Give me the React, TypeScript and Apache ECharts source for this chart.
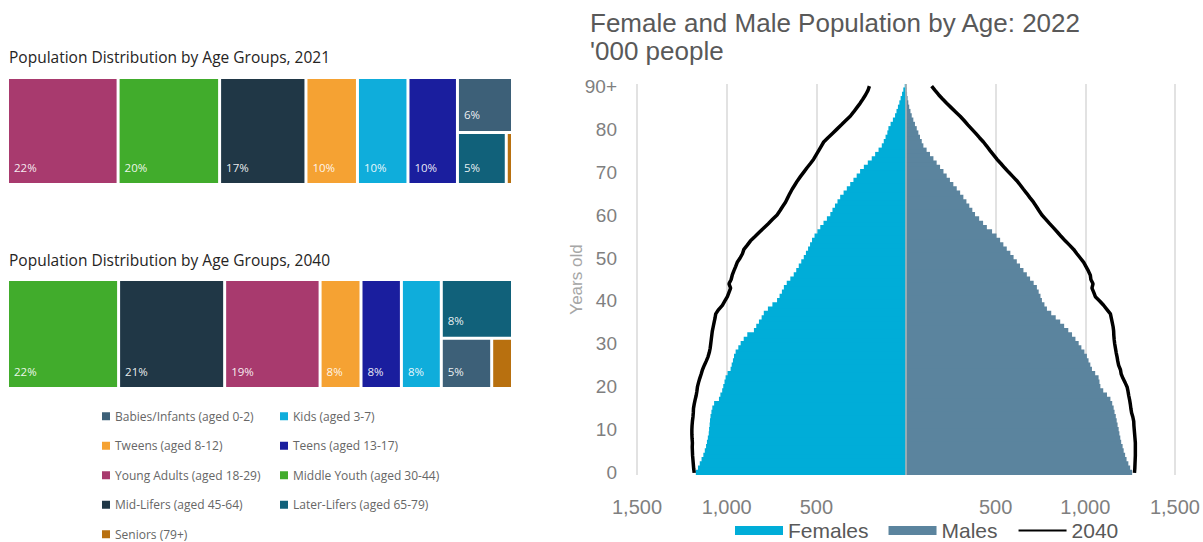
import React, { useEffect, useRef } from 'react';
import * as echarts from 'echarts';

// ---------- Left: age-group distribution ----------
const groupNames = [
  'Babies/Infants (aged 0-2)',
  'Kids (aged 3-7)',
  'Tweens (aged 8-12)',
  'Teens (aged 13-17)',
  'Young Adults (aged 18-29)',
  'Middle Youth (aged 30-44)',
  'Mid-Lifers (aged 45-64)',
  'Later-Lifers (aged 65-79)',
  'Seniors (79+)',
];
const groupColors = [
  '#3D6078', '#0FADDB', '#F5A233', '#1A1E9E', '#A83A6E',
  '#41AC2C', '#203746', '#11617A', '#B8700F',
];
const share2021 = [5.6, 10.0, 10.2, 9.8, 21.9, 20.1, 17.1, 4.7, 0.6];
const share2040 = [4.6, 7.9, 8.1, 8.0, 18.9, 22.0, 21.0, 7.6, 1.9];
const rowTitles = [
  'Population Distribution by Age Groups, 2021',
  'Population Distribution by Age Groups, 2040',
];

// ---------- Right: population pyramid ('000 people) ----------
const ageLabels = [
  '0','1','2','3','4','5','6','7','8','9',
  '10','11','12','13','14','15','16','17','18','19',
  '20','21','22','23','24','25','26','27','28','29',
  '30','31','32','33','34','35','36','37','38','39',
  '40','41','42','43','44','45','46','47','48','49',
  '50','51','52','53','54','55','56','57','58','59',
  '60','61','62','63','64','65','66','67','68','69',
  '70','71','72','73','74','75','76','77','78','79',
  '80','81','82','83','84','85','86','87','88','89',
  '90+',
];
const females2022 = [
  1172, 1160, 1150, 1140, 1130, 1122, 1115, 1110, 1105, 1100,
  1098, 1095, 1093, 1090, 1085, 1080, 1070, 1043, 1035, 1025,
  1019, 1012, 1006, 995, 978, 972, 965, 959, 950, 935,
  922, 905, 885, 848, 835, 820, 805, 793, 770, 745,
  719, 705, 692, 681, 665, 645, 626, 612, 598, 584,
  570, 558, 546, 535, 524, 510, 494, 478, 460, 441,
  422, 410, 396, 382, 367, 348, 330, 311, 293, 275,
  256, 235, 213, 191, 172, 153, 135, 124, 114, 104,
  98, 86, 73, 61, 53, 45, 37, 30, 22, 15,
  7,
];
const males2022 = [
  1261, 1250, 1240, 1230, 1222, 1214, 1208, 1200, 1195, 1190,
  1186, 1180, 1175, 1170, 1163, 1158, 1150, 1140, 1121, 1100,
  1084, 1079, 1074, 1055, 1037, 1028, 1018, 1009, 995, 978,
  963, 945, 926, 905, 882, 860, 835, 810, 786, 772,
  758, 750, 740, 730, 712, 692, 674, 655, 636, 618,
  600, 582, 562, 543, 525, 505, 480, 451, 430, 408,
  385, 370, 353, 337, 320, 302, 283, 264, 245, 227,
  209, 190, 171, 153, 134, 115, 97, 88, 78, 69,
  60, 50, 41, 32, 25, 18, 13, 9, 6, 4,
  3,
];
const females2040 = [
  1181, 1184, 1186, 1188, 1190, 1191, 1192, 1191, 1193, 1194,
  1194, 1193, 1191, 1188, 1186, 1185, 1181, 1176, 1170, 1166,
  1163, 1157, 1150, 1142, 1135, 1125, 1114, 1104, 1097, 1092,
  1089, 1086, 1083, 1080, 1075, 1070, 1065, 1061, 1045, 1024,
  1010, 996, 987, 978, 987, 975, 969, 960, 950, 941,
  925, 912, 904, 885, 867, 842, 818, 793, 768, 744,
  719, 703, 688, 672, 660, 648, 635, 620, 605, 588,
  570, 552, 533, 515, 501, 487, 473, 459, 435, 410,
  385, 360, 336, 311, 292, 274, 256, 240, 225, 212,
  204,
];
const males2040 = [
  1274, 1276, 1277, 1278, 1279, 1279, 1279, 1279, 1277, 1275,
  1273, 1271, 1270, 1265, 1258, 1254, 1251, 1247, 1242, 1238,
  1233, 1222, 1210, 1200, 1196, 1186, 1181, 1177, 1172, 1168,
  1164, 1161, 1159, 1158, 1155, 1150, 1145, 1140, 1121, 1102,
  1080, 1056, 1047, 1037, 1043, 1031, 1028, 1017, 1004, 991,
  972, 953, 935, 912, 888, 866, 845, 823, 801, 780,
  758, 742, 727, 711, 692, 674, 655, 637, 618, 595,
  572, 550, 529, 507, 488, 469, 451, 432, 410, 389,
  367, 345, 324, 302, 277, 252, 227, 204, 182, 162,
  143,
];
const pyramidTitle = "Female and Male Population by Age: 2022\n'000 people";
const xTicks = { min: -1500, max: 1500, interval: 500 };

// Layout: six largest groups as full-height columns, the last column holds the
// largest remaining group on top and the other two side by side below.
function layoutRow(shares: number[]) {
  const idx = shares.map((_, i) => i).sort((a, b) => shares[b] - shares[a]);
  const total = shares.reduce((s, v) => s + v, 0);
  const rects: number[][] = [];
  let x = 0;
  for (let k = 0; k < 6; k++) {
    const i = idx[k];
    rects[i] = [x, x + shares[i], 0, 1];
    x += shares[i];
  }
  const rest = idx.slice(6);
  const colW = rest.reduce((s, i) => s + shares[i], 0);
  const topH = shares[rest[0]] / colW;
  rects[rest[0]] = [x, total, 0, topH];
  const bw = shares[rest[1]] + shares[rest[2]];
  const split = x + (total - x) * (shares[rest[1]] / bw);
  rects[rest[1]] = [x, split, topH, 1];
  rects[rest[2]] = [split, total, topH, 1];
  return { rects, total };
}

const LEFT_FONT = "'Open Sans', 'DejaVu Sans', sans-serif";
const RIGHT_FONT = "'Liberation Sans', Arial, sans-serif";

function renderBlock(params: any, api: any) {
  const p0 = api.coord([api.value(0), api.value(2)]);
  const p1 = api.coord([api.value(1), api.value(3)]);
  const g = 1.5;
  const x = Math.min(p0[0], p1[0]) + g;
  const y = Math.min(p0[1], p1[1]) + g;
  const w = Math.abs(p1[0] - p0[0]) - 2 * g;
  const h = Math.abs(p1[1] - p0[1]) - 2 * g;
  const children: any[] = [
    {
      type: 'rect',
      shape: { x, y, width: w, height: h },
      style: { fill: api.visual('color') },
    },
  ];
  if (w > 25) {
    children.push({
      type: 'text',
      x: x + 5,
      y: y + h - 16,
      style: {
        text: Math.round(api.value(4)) + '%',
        fill: 'rgba(255,255,255,0.92)',
        fontSize: 11.5,
        fontFamily: LEFT_FONT,
        align: 'left',
        verticalAlign: 'middle',
        textAlign: 'left',
        textVerticalAlign: 'middle',
      },
    });
  }
  return { type: 'group', children };
}

function buildOption() {
  const rows = [layoutRow(share2021), layoutRow(share2040)];
  const gridTops = [77.5, 279.5];
  const gridHeights = [107, 109];

  const grids: any[] = rows.map((_, r) => ({
    left: 7.5,
    width: 505,
    top: gridTops[r],
    height: gridHeights[r],
  }));
  grids.push({ left: 637, width: 538, top: 84, height: 391 });

  const xAxes: any[] = rows.map((row, r) => ({
    gridIndex: r,
    type: 'value',
    min: 0,
    max: row.total,
    show: false,
  }));
  const yAxes: any[] = rows.map((_, r) => ({
    gridIndex: r,
    type: 'value',
    min: 0,
    max: 1,
    inverse: true,
    show: false,
  }));

  xAxes.push({
    gridIndex: 2,
    type: 'value',
    min: xTicks.min,
    max: xTicks.max,
    interval: xTicks.interval,
    axisLine: { show: false },
    axisTick: { show: false },
    splitLine: { show: true, lineStyle: { color: '#d9d9d9', width: 1.5 } },
    axisLabel: {
      fontSize: 20,
      color: '#7f7f7f',
      fontFamily: RIGHT_FONT,
      margin: 22,
      formatter: (v: number) => (v === 0 ? '' : Math.abs(v).toLocaleString('en-US')),
    },
  });
  yAxes.push({
    gridIndex: 2,
    type: 'category',
    data: ageLabels,
    axisLine: { show: false },
    axisTick: { show: false },
    splitLine: { show: false },
    axisLabel: {
      interval: 9,
      fontSize: 19,
      color: '#7f7f7f',
      fontFamily: RIGHT_FONT,
      margin: 20,
    },
    name: 'Years old',
    nameLocation: 'middle',
    nameRotate: 90,
    nameGap: 52,
    nameMoveOverlap: false,
    nameTextStyle: { fontSize: 17, color: '#a6a6a6', fontFamily: RIGHT_FONT },
  });

  const series: any[] = [];
  rows.forEach((row, r) => {
    const shares = r === 0 ? share2021 : share2040;
    groupNames.forEach((name, i) => {
      const rc = row.rects[i];
      series.push({
        type: 'custom',
        name,
        xAxisIndex: r,
        yAxisIndex: r,
        itemStyle: { color: groupColors[i] },
        encode: { x: [0, 1], y: [2, 3] },
        data: [[rc[0], rc[1], rc[2], rc[3], shares[i]]],
        renderItem: renderBlock,
        silent: true,
      });
    });
  });

  series.push({
    type: 'bar',
    name: 'Females',
    xAxisIndex: 2,
    yAxisIndex: 2,
    stack: 'pop',
    barWidth: 6,
    data: females2022.map((v) => -v),
    itemStyle: { color: '#00ADD8' },
    silent: true,
  });
  series.push({
    type: 'bar',
    name: 'Males',
    xAxisIndex: 2,
    yAxisIndex: 2,
    stack: 'pop',
    barWidth: 6,
    data: males2022,
    itemStyle: { color: '#5B849E' },
    silent: true,
    markLine: {
      silent: true,
      symbol: ['none', 'none'],
      label: { show: false },
      lineStyle: { color: '#b5b5b5', width: 1.5, type: 'solid' },
      data: [{ xAxis: 0 }],
    },
  });
  series.push({
    type: 'line',
    name: '2040',
    xAxisIndex: 2,
    yAxisIndex: 2,
    data: females2040.map((v) => -v),
    symbol: 'none',
    lineStyle: { color: '#000', width: 3.5 },
    itemStyle: { color: '#000' },
    z: 5,
    silent: true,
  });
  series.push({
    type: 'line',
    name: '2040',
    xAxisIndex: 2,
    yAxisIndex: 2,
    data: males2040,
    symbol: 'none',
    lineStyle: { color: '#000', width: 3.5 },
    itemStyle: { color: '#000' },
    z: 5,
    silent: true,
  });

  const leftLegendBase = {
    orient: 'vertical',
    top: 409,
    padding: 0,
    itemWidth: 8,
    itemHeight: 8,
    itemGap: 15,
    icon: 'rect',
    selectedMode: false,
    textStyle: { fontSize: 12, color: '#666666', fontFamily: LEFT_FONT, lineHeight: 14.5 },
  };

  return {
    animation: false,
    backgroundColor: '#ffffff',
    title: [
      {
        text: rowTitles[0],
        left: 9,
        top: 49,
        padding: 0,
        textStyle: { fontSize: 15.5, fontWeight: 'normal', color: '#252423', fontFamily: LEFT_FONT },
      },
      {
        text: rowTitles[1],
        left: 9,
        top: 252,
        padding: 0,
        textStyle: { fontSize: 15.5, fontWeight: 'normal', color: '#252423', fontFamily: LEFT_FONT },
      },
      {
        text: pyramidTitle,
        left: 590,
        top: 9,
        padding: 0,
        textStyle: {
          fontSize: 26,
          lineHeight: 28,
          fontWeight: 'normal',
          color: '#595959',
          fontFamily: RIGHT_FONT,
        },
      },
    ],
    legend: [
      {
        ...leftLegendBase,
        left: 102,
        data: [groupNames[0], groupNames[2], groupNames[4], groupNames[6], groupNames[8]],
      },
      {
        ...leftLegendBase,
        left: 280,
        data: [groupNames[1], groupNames[3], groupNames[5], groupNames[7]],
      },
      {
        left: 735,
        top: 520,
        padding: 0,
        itemWidth: 48,
        itemHeight: 9,
        itemGap: 20,
        selectedMode: false,
        data: [
          { name: 'Females', icon: 'rect' },
          { name: 'Males', icon: 'rect' },
          { name: '2040', itemStyle: { opacity: 0 } },
        ],
        textStyle: { fontSize: 21, color: '#595959', fontFamily: RIGHT_FONT },
      },
    ],
    grid: grids,
    xAxis: xAxes,
    yAxis: yAxes,
    series,
  };
}

export default function App() {
  const ref = useRef<HTMLDivElement>(null);
  useEffect(() => {
    if (!ref.current) return;
    const chart = echarts.init(ref.current, undefined, { renderer: 'svg' });
    chart.setOption(buildOption() as any);
    return () => chart.dispose();
  }, []);
  return (
    <div
      ref={ref}
      style={{ position: 'fixed', left: 0, top: 0, width: 1203, height: 542, background: '#fff' }}
    />
  );
}
